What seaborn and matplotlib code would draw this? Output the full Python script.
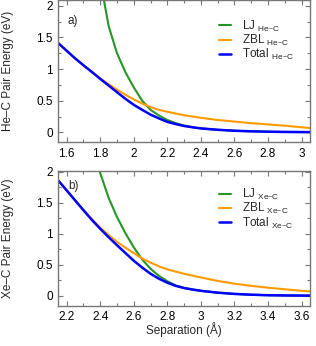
import matplotlib
matplotlib.use('Agg')
import matplotlib.pyplot as plt
from matplotlib.ticker import MultipleLocator, FuncFormatter
import seaborn as sns

# He-C pair energies (eV) vs separation (Angstrom)
he_lj_x = [1.82, 1.85, 1.90, 1.95, 2.00, 2.05, 2.10, 2.15, 2.20, 2.25, 2.30, 2.35,
           2.40, 2.50, 2.60, 2.70, 2.80, 2.90, 3.05]
he_lj_y = [2.12, 1.68, 1.25, 0.95, 0.71, 0.50, 0.355, 0.265, 0.195, 0.145, 0.108, 0.08,
           0.062, 0.04, 0.025, 0.016, 0.01, 0.006, 0.003]

he_zbl_x = [1.55, 1.60, 1.65, 1.70, 1.75, 1.80, 1.85, 1.90, 1.95, 2.00, 2.05, 2.10,
            2.15, 2.20, 2.30, 2.40, 2.50, 2.60, 2.70, 2.80, 2.90, 3.00, 3.05]
he_zbl_y = [1.41, 1.29, 1.17, 1.06, 0.955, 0.855, 0.76, 0.675, 0.595, 0.52, 0.455, 0.40,
            0.355, 0.325, 0.27, 0.23, 0.195, 0.17, 0.145, 0.125, 0.105, 0.08, 0.068]

he_tot_x = [1.55, 1.60, 1.65, 1.70, 1.75, 1.80, 1.85, 1.90, 1.95, 2.00, 2.05, 2.10,
            2.15, 2.20, 2.25, 2.30, 2.35, 2.40, 2.50, 2.60, 2.70, 2.80, 2.90, 3.05]
he_tot_y = [1.41, 1.29, 1.17, 1.06, 0.955, 0.845, 0.74, 0.635, 0.53, 0.435, 0.355, 0.28,
            0.22, 0.165, 0.13, 0.10, 0.08, 0.062, 0.04, 0.025, 0.016, 0.01, 0.006, 0.003]

# Xe-C pair energies
xe_lj_x = [2.39, 2.40, 2.45, 2.50, 2.55, 2.60, 2.65, 2.70, 2.75, 2.80, 2.85, 2.90,
           3.00, 3.10, 3.20, 3.30, 3.40, 3.50, 3.65]
xe_lj_y = [2.08, 1.98, 1.58, 1.27, 1.01, 0.78, 0.585, 0.435, 0.32, 0.235, 0.165, 0.125,
           0.08, 0.05, 0.03, 0.017, 0.009, 0.005, 0.002]

xe_zbl_x = [2.15, 2.20, 2.25, 2.30, 2.35, 2.40, 2.45, 2.50, 2.55, 2.60, 2.65, 2.70,
            2.75, 2.80, 2.90, 3.00, 3.10, 3.20, 3.30, 3.40, 3.50, 3.60, 3.65]
xe_zbl_y = [1.86, 1.70, 1.54, 1.385, 1.235, 1.10, 0.98, 0.87, 0.775, 0.69, 0.60, 0.535,
            0.475, 0.425, 0.355, 0.295, 0.24, 0.195, 0.16, 0.13, 0.105, 0.08, 0.07]

xe_tot_x = [2.15, 2.20, 2.25, 2.30, 2.35, 2.40, 2.45, 2.50, 2.55, 2.60, 2.65, 2.70,
            2.75, 2.80, 2.85, 2.90, 2.95, 3.00, 3.10, 3.20, 3.30, 3.40, 3.50, 3.65]
xe_tot_y = [1.86, 1.70, 1.54, 1.38, 1.225, 1.08, 0.945, 0.815, 0.69, 0.565, 0.455, 0.355,
            0.275, 0.21, 0.16, 0.125, 0.10, 0.08, 0.05, 0.03, 0.017, 0.009, 0.005, 0.002]

GREEN = '#259625'
ORANGE = '#ff9a00'
BLUE = '#0000ff'
FRAME = '#777777'

sns.set_theme(style='ticks', rc={
    'xtick.direction': 'in', 'ytick.direction': 'in',
    'xtick.top': True, 'ytick.right': True,
    'xtick.minor.visible': True, 'ytick.minor.visible': True,
})
plt.rcParams['font.family'] = ['Liberation Sans', 'DejaVu Sans']
FS = 8.5


def fmt(v, pos):
    return '%g' % round(v, 3)


def draw_panel(ax, pair, lj, zbl, tot, xlim, ylim, tag, tag_y, leg_y):
    sns.lineplot(x=lj[0], y=lj[1], color=GREEN, lw=1.5, sort=False, ax=ax,
                 label=r'LJ $_{\mathregular{%s}}$' % pair)
    sns.lineplot(x=zbl[0], y=zbl[1], color=ORANGE, lw=1.5, sort=False, ax=ax,
                 label=r'ZBL $_{\mathregular{%s}}$' % pair)
    sns.lineplot(x=tot[0], y=tot[1], color=BLUE, lw=1.8, sort=False, ax=ax,
                 label=r'Total $_{\mathregular{%s}}$' % pair)
    ax.set_xlim(*xlim)
    ax.set_ylim(*ylim)
    ax.xaxis.set_major_locator(MultipleLocator(0.2))
    ax.xaxis.set_minor_locator(MultipleLocator(0.1))
    ax.yaxis.set_major_locator(MultipleLocator(0.5))
    ax.yaxis.set_minor_locator(MultipleLocator(0.25))
    ax.xaxis.set_major_formatter(FuncFormatter(fmt))
    ax.yaxis.set_major_formatter(FuncFormatter(fmt))
    for s in ax.spines.values():
        s.set_color(FRAME)
        s.set_linewidth(1.0)
    ax.tick_params(which='both', color=FRAME, labelsize=FS, labelcolor='black')
    ax.tick_params(which='major', length=3.5, width=0.8, pad=4)
    ax.tick_params(which='minor', length=2, width=0.8)
    ax.set_ylabel('%s Pair Energy (eV)' % pair, fontsize=FS)
    ax.yaxis.set_label_coords(-0.178, 0.5)
    ax.text(0.038, tag_y, tag, transform=ax.transAxes, fontsize=FS, va='center')
    ax.legend(loc='upper left', bbox_to_anchor=(0.64, leg_y), frameon=False,
              fontsize=FS, handlelength=1.0, handletextpad=0.9, labelspacing=-0.08,
              borderpad=0, borderaxespad=0)


fig = plt.figure(figsize=(3.16, 3.46), dpi=100)
ax_a = fig.add_axes([0.1845, 0.5896, 0.7965, 0.4104])
ax_b = fig.add_axes([0.1845, 0.1165, 0.7965, 0.3901])

draw_panel(ax_a, 'He–C', (he_lj_x, he_lj_y), (he_zbl_x, he_zbl_y), (he_tot_x, he_tot_y),
           (1.55, 3.05), (-0.153, 2.093), 'a)', 0.85, 0.869)
draw_panel(ax_b, 'Xe–C', (xe_lj_x, xe_lj_y), (xe_zbl_x, xe_zbl_y), (xe_tot_x, xe_tot_y),
           (2.15, 3.65), (-0.16, 2.018), 'b)', 0.89, 0.878)
ax_b.set_xlabel('Separation (Å)', fontsize=FS, labelpad=-0.5)

fig.savefig('out.png', dpi=100)
